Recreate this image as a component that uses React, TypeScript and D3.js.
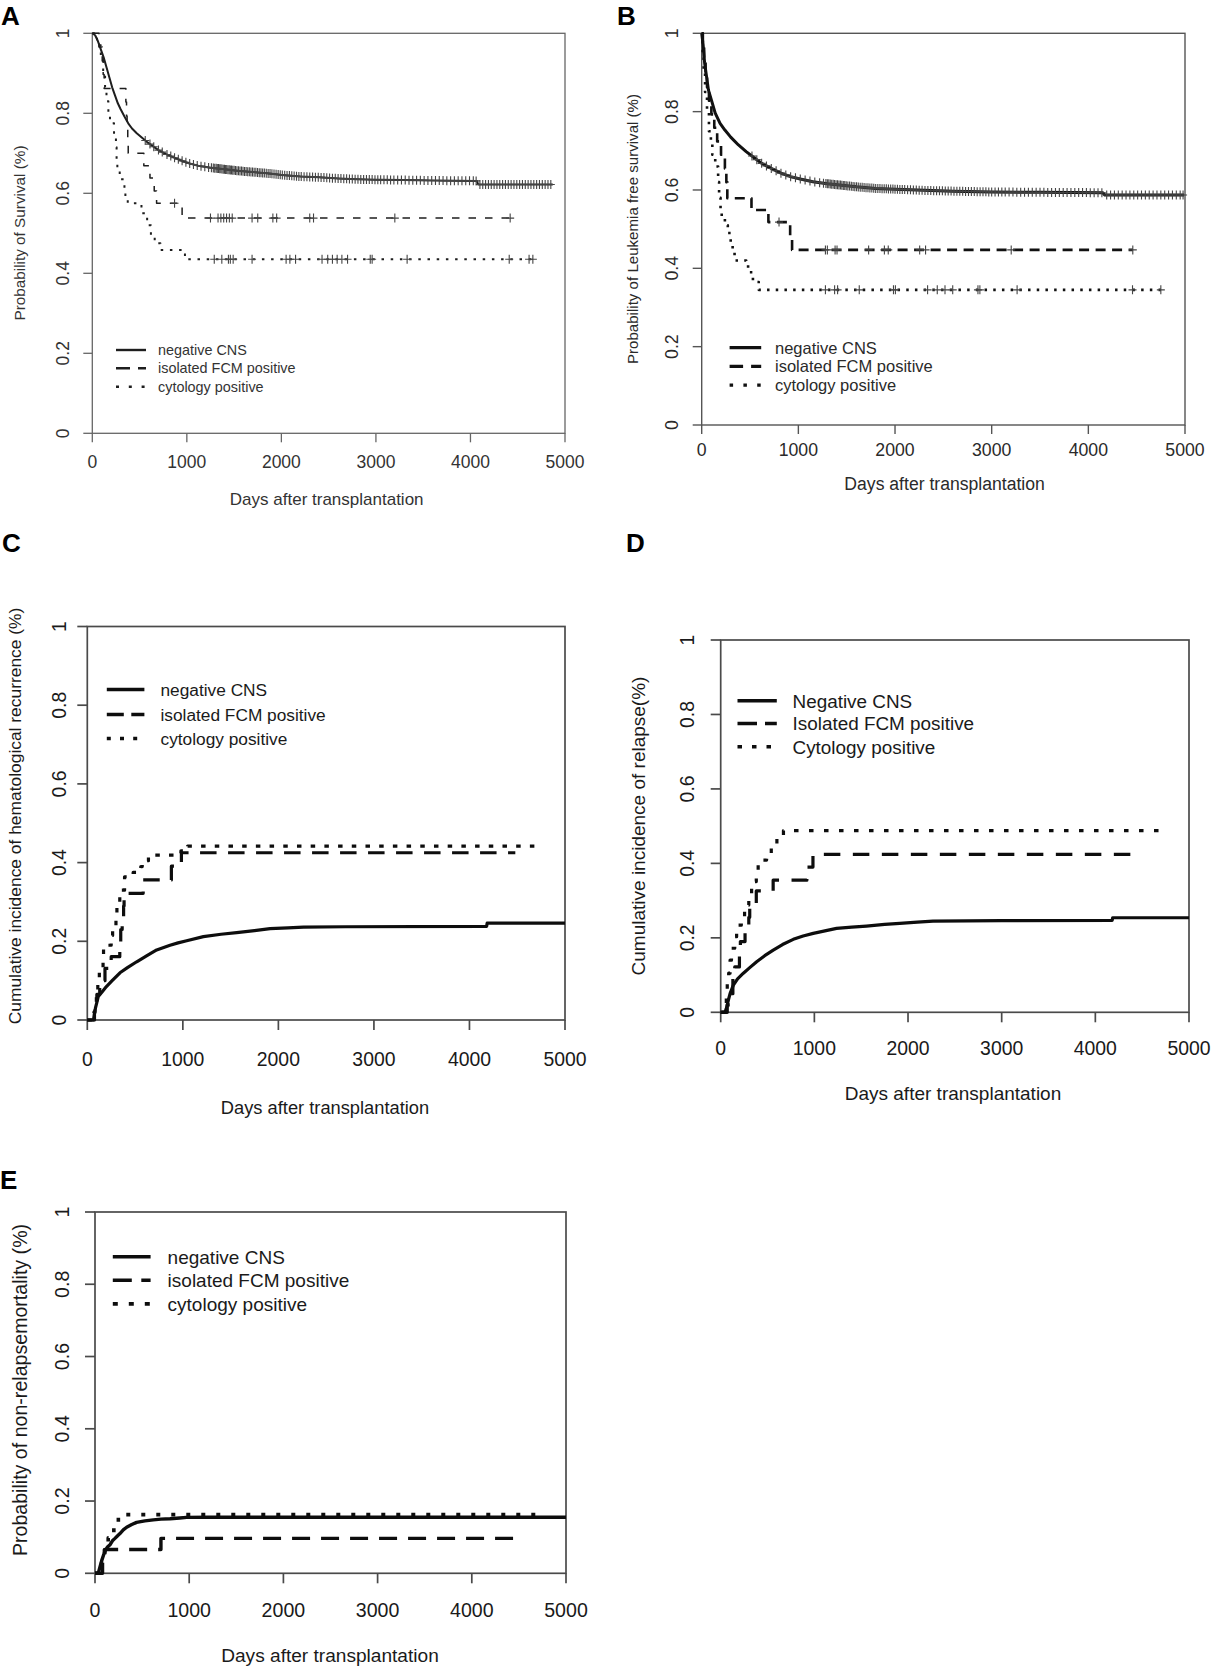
import React from "react";
import * as d3 from "d3";

// ---------- shared axis data ----------
const X_TICKS = [0, 1000, 2000, 3000, 4000, 5000];
const Y_TICKS = [0, 0.2, 0.4, 0.6, 0.8, 1];
const Y_TICK_LABELS = ["0", "0.2", "0.4", "0.6", "0.8", "1"];
const X_TITLE = "Days after transplantation";
const LEGEND_LOWER = ["negative CNS", "isolated FCM positive", "cytology positive"];
const LEGEND_UPPER = ["Negative CNS", "Isolated FCM positive", "Cytology positive"];

// ---------- Panel A: overall survival ----------
const A_NEG: [number, number][] = [
  [0, 1.0], [30, 0.995], [60, 0.98], [90, 0.96], [120, 0.94], [150, 0.915], [180, 0.89], [210, 0.865],
  [240, 0.845], [270, 0.825], [300, 0.81], [340, 0.792], [380, 0.775], [420, 0.762], [470, 0.75],
  [520, 0.74], [580, 0.728], [640, 0.718], [700, 0.708], [780, 0.698], [860, 0.69], [940, 0.682],
  [1020, 0.675], [1120, 0.669], [1250, 0.664], [1400, 0.66], [1550, 0.656], [1700, 0.653], [1850, 0.65],
  [2000, 0.646], [2200, 0.642], [2400, 0.64], [2600, 0.637], [2800, 0.635], [3000, 0.634], [3300, 0.633],
  [3600, 0.632], [4070, 0.631], [4080, 0.622],
];
const A_NEG_END = 4870;
const A_NEG_CENSOR = [
  560, 610, 650, 700, 740, 790, 830, 870, 910, 950, 990, 1030, 1070, 1110, 1150, 1190, 1230, 1260, 1280,
  1295, 1310, 1322, 1335, 1348, 1360, 1372, 1385, 1398, 1410, 1422, 1435, 1448, 1460, 1473, 1486, 1500,
  1515, 1530, 1546, 1562, 1578, 1594, 1610, 1627, 1644, 1661, 1678, 1695, 1712, 1730, 1748, 1766, 1784,
  1802, 1820, 1840, 1860, 1880, 1900, 1922, 1944, 1966, 1988, 2010, 2035, 2060, 2085, 2110, 2135, 2160,
  2185, 2210, 2240, 2270, 2300, 2330, 2360, 2390, 2420, 2450, 2480, 2510, 2540, 2570, 2600, 2630, 2660,
  2690, 2720, 2750, 2780, 2810, 2840, 2870, 2900, 2930, 2960, 2990, 3020, 3050, 3085, 3120, 3155, 3190,
  3230, 3270, 3310, 3350, 3390, 3430, 3470, 3510, 3550, 3590, 3630, 3670, 3710, 3750, 3790, 3830, 3870,
  3910, 3950, 3990, 4030, 4060, 4100, 4130, 4160, 4190, 4220, 4250, 4280, 4310, 4340, 4370, 4400, 4430,
  4460, 4490, 4520, 4550, 4580, 4610, 4640, 4670, 4700, 4730, 4760, 4790, 4820, 4850,
];
const A_FCM: [number, number][] = [
  [0, 1.0], [70, 0.966], [105, 0.931], [115, 0.897], [125, 0.862], [355, 0.828], [362, 0.793],
  [368, 0.759], [375, 0.724], [380, 0.7], [545, 0.669], [610, 0.638], [655, 0.606], [680, 0.575],
  [950, 0.538],
];
const A_FCM_END = 4420;
const A_FCM_CENSOR = [870, 1250, 1330, 1360, 1390, 1420, 1450, 1480, 1690, 1750, 1910, 1950, 2300, 2340, 3200, 4420];
const A_CYT: [number, number][] = [
  [0, 1.0], [50, 0.97], [90, 0.935], [115, 0.9], [135, 0.865], [150, 0.83], [170, 0.8], [187, 0.775],
  [230, 0.745], [250, 0.715], [257, 0.685], [265, 0.655], [290, 0.635], [340, 0.61], [350, 0.59],
  [375, 0.575], [520, 0.55], [580, 0.52], [620, 0.495], [660, 0.475], [720, 0.458], [980, 0.435],
];
const A_CYT_END = 4700;
const A_CYT_CENSOR = [1290, 1370, 1440, 1460, 1490, 1690, 2050, 2090, 2150, 2430, 2490, 2540, 2590, 2640, 2700, 2940, 2960, 3330, 4410, 4620, 4660];

// ---------- Panel B: leukemia free survival ----------
const B_NEG: [number, number][] = [
  [0, 1.0], [15, 0.97], [30, 0.925], [50, 0.89], [70, 0.855], [100, 0.83], [140, 0.796], [190, 0.77],
  [240, 0.753], [300, 0.735], [380, 0.715], [460, 0.698], [540, 0.683], [620, 0.668], [720, 0.655],
  [820, 0.643], [920, 0.634], [1020, 0.628], [1150, 0.621], [1300, 0.616], [1450, 0.612], [1600, 0.608],
  [1800, 0.604], [2000, 0.602], [2300, 0.599], [2600, 0.597], [3000, 0.595], [3500, 0.594], [4150, 0.593],
  [4170, 0.587],
];
const B_NEG_END = 4990;
const B_NEG_CENSOR = [
  520, 570, 620, 670, 720, 770, 820, 870, 920, 970, 1020, 1070, 1120, 1170, 1220, 1260, 1285, 1300, 1315,
  1330, 1345, 1360, 1375, 1390, 1405, 1420, 1435, 1450, 1465, 1480, 1495, 1512, 1530, 1548, 1566, 1584,
  1602, 1620, 1640, 1660, 1680, 1700, 1720, 1740, 1760, 1780, 1800, 1822, 1844, 1866, 1888, 1910, 1932,
  1955, 1978, 2000, 2025, 2050, 2075, 2100, 2130, 2160, 2190, 2220, 2250, 2280, 2310, 2340, 2370, 2400,
  2430, 2460, 2490, 2520, 2550, 2580, 2610, 2640, 2670, 2700, 2730, 2760, 2790, 2820, 2850, 2880, 2910,
  2940, 2970, 3000, 3035, 3070, 3105, 3140, 3180, 3220, 3260, 3300, 3340, 3380, 3420, 3460, 3500, 3540,
  3580, 3620, 3660, 3700, 3740, 3780, 3820, 3860, 3900, 3940, 3980, 4020, 4060, 4100, 4140, 4190, 4230,
  4270, 4310, 4350, 4390, 4430, 4470, 4510, 4550, 4590, 4630, 4670, 4710, 4750, 4790, 4830, 4870, 4910,
  4950, 4980,
];
const B_FCM: [number, number][] = [
  [0, 1.0], [12, 0.966], [25, 0.931], [40, 0.897], [55, 0.862], [75, 0.828], [100, 0.793], [130, 0.759],
  [160, 0.724], [200, 0.69], [240, 0.655], [255, 0.62], [265, 0.579], [515, 0.549], [690, 0.518],
  [915, 0.482], [935, 0.447],
];
const B_FCM_END = 4460;
const B_FCM_CENSOR = [800, 1280, 1300, 1380, 1400, 1727, 1890, 1930, 2255, 2316, 3202, 4460];
const B_CYT: [number, number][] = [
  [0, 1.0], [10, 0.95], [20, 0.9], [35, 0.85], [55, 0.8], [75, 0.75], [95, 0.72], [110, 0.69],
  [140, 0.66], [170, 0.62], [180, 0.58], [195, 0.55], [207, 0.53], [240, 0.51], [270, 0.49], [300, 0.465],
  [320, 0.445], [340, 0.42], [460, 0.413], [480, 0.39], [530, 0.365], [590, 0.345],
];
const B_CYT_END = 4750;
const B_CYT_CENSOR = [1280, 1375, 1406, 1630, 1984, 2004, 2337, 2437, 2517, 2597, 2858, 2878, 3263, 4457, 4750];

// ---------- Panel C: hematological recurrence ----------
const C_NEG: [number, number][] = [
  [0, 0], [65, 0], [75, 0.015], [85, 0.03], [100, 0.045], [115, 0.06], [150, 0.07], [200, 0.085],
  [260, 0.1], [342, 0.12], [420, 0.133], [517, 0.148], [620, 0.163], [726, 0.178], [866, 0.19],
  [950, 0.196], [1040, 0.2015], [1215, 0.212], [1400, 0.218], [1564, 0.222], [1750, 0.227], [1913, 0.232],
  [2100, 0.234], [2262, 0.236], [2700, 0.237], [4180, 0.238], [4185, 0.246],
];
const C_NEG_END = 5000;
const C_FCM: [number, number][] = [
  [0, 0], [75, 0.03], [100, 0.065], [130, 0.1], [185, 0.131], [250, 0.161], [340, 0.195], [350, 0.23],
  [365, 0.26], [380, 0.29], [385, 0.322], [585, 0.356], [880, 0.391], [985, 0.425],
];
const C_FCM_END = 4480;
const C_CYT: [number, number][] = [
  [0, 0], [70, 0.02], [80, 0.042], [95, 0.07], [110, 0.1], [126, 0.131], [165, 0.16], [170, 0.186],
  [220, 0.19], [250, 0.215], [265, 0.24], [300, 0.27], [310, 0.3], [340, 0.33], [390, 0.364],
  [480, 0.375], [560, 0.39], [575, 0.405], [640, 0.419], [980, 0.43], [1050, 0.442],
];
const C_CYT_END = 4760;

// ---------- Panel D: relapse ----------
const D_NEG: [number, number][] = [
  [0, 0], [45, 0], [60, 0.01], [82, 0.033], [100, 0.05], [135, 0.073], [180, 0.09], [242, 0.105],
  [310, 0.12], [384, 0.136], [470, 0.152], [561, 0.167], [660, 0.182], [775, 0.196], [880, 0.205],
  [988, 0.212], [1100, 0.218], [1237, 0.2255], [1400, 0.229], [1556, 0.2317], [1750, 0.236], [1912, 0.239],
  [2100, 0.242], [2267, 0.245], [3000, 0.246], [4180, 0.247], [4185, 0.254],
];
const D_NEG_END = 5000;
const D_FCM: [number, number][] = [
  [0, 0], [70, 0.02], [100, 0.05], [130, 0.09], [150, 0.122], [200, 0.16], [210, 0.19], [260, 0.22],
  [300, 0.255], [310, 0.29], [380, 0.326], [560, 0.355], [920, 0.39], [985, 0.424],
];
const D_FCM_END = 4380;
const D_CYT: [number, number][] = [
  [0, 0], [30, 0.015], [60, 0.05], [70, 0.08], [85, 0.105], [100, 0.14], [115, 0.172], [150, 0.203],
  [170, 0.234], [220, 0.257], [255, 0.288], [300, 0.315], [330, 0.351], [380, 0.373], [400, 0.409],
  [490, 0.4225], [540, 0.444], [600, 0.466], [670, 0.488],
];
const D_CYT_END = 4760;

// ---------- Panel E: non-relapse mortality ----------
const E_NEG: [number, number][] = [
  [0, 0], [35, 0], [50, 0.015], [71, 0.035], [90, 0.05], [106, 0.0615], [130, 0.072], [159, 0.079],
  [185, 0.09], [212, 0.0967], [240, 0.104], [265, 0.11], [300, 0.12], [336, 0.1275], [390, 0.135],
  [442, 0.141], [530, 0.145], [619, 0.148], [700, 0.15], [796, 0.151], [900, 0.153], [973, 0.1547],
  [1200, 0.155],
];
const E_NEG_END = 5000;
const E_FCM: [number, number][] = [[0, 0], [80, 0.033], [105, 0.066], [700, 0.0967]];
const E_FCM_END = 4460;
const E_CYT: [number, number][] = [[0, 0], [70, 0.03], [100, 0.065], [140, 0.098], [200, 0.13], [248, 0.1625]];
const E_CYT_END = 4680;

type Series = { pts: [number, number][]; end: number; censor?: number[]; smooth?: boolean };

const PANELS = [
  {
    letter: "A", letterPos: [1, 25],
    box: { l: 92.3, r: 565, t: 33.3, b: 433.3 },
    series: [
      { pts: A_NEG, end: A_NEG_END, censor: A_NEG_CENSOR, smooth: true },
      { pts: A_FCM, end: A_FCM_END, censor: A_FCM_CENSOR },
      { pts: A_CYT, end: A_CYT_END, censor: A_CYT_CENSOR },
    ] as Series[],
    yTitle: "Probability of Survival (%)",
    legend: LEGEND_LOWER,
    lw: [2.0, 1.5, 2.0], dash: ["", "7.5 9", "2.5 6.7"], lineColor: "#1e1e1e",
    legLw: [2.4, 2.4, 2.6], legDash: ["", "14 8", "3 9.8"],
    textColor: "#333", axisColor: "#666", axisW: 1.3, tickLen: 9,
    tickFont: 17.5, xTitleFont: 17, yTitleFont: 15.3, legendFont: 14.4,
    yTickX: 68.5, xTickY: 468, xTitleX: 326.7, xTitleY: 505, yTitleX: 25, yTitleY: 233,
    leg: { x1: 116, x2: 146, tx: 158, ys: [350, 368.3, 386.7] },
    markColor: "#444",
  },
  {
    letter: "B", letterPos: [617, 25],
    box: { l: 701.7, r: 1185, t: 33.3, b: 425 },
    series: [
      { pts: B_NEG, end: B_NEG_END, censor: B_NEG_CENSOR, smooth: true },
      { pts: B_FCM, end: B_FCM_END, censor: B_FCM_CENSOR },
      { pts: B_CYT, end: B_CYT_END, censor: B_CYT_CENSOR },
    ] as Series[],
    yTitle: "Probability of Leukemia free survival (%)",
    legend: LEGEND_LOWER,
    lw: [3.0, 2.6, 2.6], dash: ["", "10 6.5", "2.5 6.2"], lineColor: "#111",
    legLw: [3.2, 3.2, 3.2], legDash: ["", "13.5 8", "3.5 10.3"],
    textColor: "#2a2a2a", axisColor: "#555", axisW: 1.4, tickLen: 9,
    tickFont: 17.7, xTitleFont: 17.6, yTitleFont: 15.1, legendFont: 16.5,
    yTickX: 678, xTickY: 455.6, xTitleX: 944.6, xTitleY: 490, yTitleX: 638, yTitleY: 229,
    leg: { x1: 729.6, x2: 761.2, tx: 775, ys: [347.7, 366.4, 385.1] },
    markColor: "#444",
  },
  {
    letter: "C", letterPos: [2, 551.5],
    box: { l: 87.3, r: 565, t: 626.5, b: 1020 },
    series: [
      { pts: C_NEG, end: C_NEG_END, smooth: true },
      { pts: C_FCM, end: C_FCM_END },
      { pts: C_CYT, end: C_CYT_END },
    ] as Series[],
    yTitle: "Cumulative incidence of hematological recurrence (%)",
    legend: LEGEND_LOWER,
    lw: [3.2, 3.2, 3.2], dash: ["", "16.5 11.5", "4.5 9.2"], lineColor: "#0d0d0d",
    legLw: [3.5, 3.5, 3.5], legDash: ["", "17 7.5", "4 9.2"],
    textColor: "#1a1a1a", axisColor: "#4a4a4a", axisW: 1.7, tickLen: 10,
    tickFont: 19.4, xTitleFont: 18.3, yTitleFont: 17.4, legendFont: 17.3,
    yTickX: 66, xTickY: 1066, xTitleX: 325, xTitleY: 1114, yTitleX: 21, yTitleY: 816,
    leg: { x1: 106.8, x2: 144.4, tx: 160.5, ys: [689.5, 714.6, 738.5] },
    markColor: "#333",
  },
  {
    letter: "D", letterPos: [626, 551.5],
    box: { l: 720.7, r: 1189, t: 640, b: 1012.3 },
    series: [
      { pts: D_NEG, end: D_NEG_END, smooth: true },
      { pts: D_FCM, end: D_FCM_END },
      { pts: D_CYT, end: D_CYT_END },
    ] as Series[],
    yTitle: "Cumulative incidence of relapse(%)",
    legend: LEGEND_UPPER,
    lw: [3.2, 3.2, 3.2], dash: ["", "16.5 12.5", "4.5 10.5"], lineColor: "#0d0d0d",
    legLw: [3.5, 3.5, 3.5], legDash: ["", "19.5 8", "4.5 10"],
    textColor: "#1a1a1a", axisColor: "#4a4a4a", axisW: 1.7, tickLen: 10,
    tickFont: 19.4, xTitleFont: 19, yTitleFont: 19, legendFont: 18.9,
    yTickX: 694, xTickY: 1055, xTitleX: 953, xTitleY: 1100, yTitleX: 645, yTitleY: 826,
    leg: { x1: 737.5, x2: 776.8, tx: 792.5, ys: [700.7, 723.6, 746.8] },
    markColor: "#333",
  },
  {
    letter: "E", letterPos: [0, 1189],
    box: { l: 95, r: 566, t: 1212, b: 1573.3 },
    series: [
      { pts: E_NEG, end: E_NEG_END, smooth: true },
      { pts: E_FCM, end: E_FCM_END },
      { pts: E_CYT, end: E_CYT_END },
    ] as Series[],
    yTitle: "Probability of non-relapsemortality (%)",
    legend: LEGEND_LOWER,
    lw: [3.4, 3.4, 3.6], dash: ["", "18 11", "4 11"], lineColor: "#0d0d0d",
    legLw: [3.6, 3.6, 3.6], legDash: ["", "19 9.5", "5 11"],
    textColor: "#1a1a1a", axisColor: "#4a4a4a", axisW: 1.7, tickLen: 10,
    tickFont: 19.6, xTitleFont: 19.1, yTitleFont: 19.6, legendFont: 19,
    yTickX: 69.3, xTickY: 1617, xTitleX: 330, xTitleY: 1662, yTitleX: 27, yTitleY: 1390,
    leg: { x1: 112.8, x2: 150.6, tx: 167.6, ys: [1256.7, 1280.3, 1303.9] },
    markColor: "#333",
  },
];

const FONT = "'Liberation Sans', Arial, Helvetica, sans-serif";

function valueAt(pts: [number, number][], t: number, smooth?: boolean) {
  if (!smooth) {
    let v = pts[0][1];
    for (const p of pts) {
      if (p[0] <= t) v = p[1];
      else break;
    }
    return v;
  }
  for (let i = 0; i < pts.length - 1; i++) {
    const a = pts[i];
    const b = pts[i + 1];
    if (t >= a[0] && t <= b[0]) return a[1] + ((b[1] - a[1]) * (t - a[0])) / (b[0] - a[0]);
  }
  return pts[pts.length - 1][1];
}

function Panel({ p }: { p: (typeof PANELS)[number] }) {
  const x = d3.scaleLinear().domain([0, 5000]).range([p.box.l, p.box.r]);
  const y = d3.scaleLinear().domain([0, 1]).range([p.box.b, p.box.t]);
  const stepLine = d3
    .line<[number, number]>()
    .x((d) => x(d[0]))
    .y((d) => y(d[1]))
    .curve(d3.curveStepAfter);
  const smoothLine = d3
    .line<[number, number]>()
    .x((d) => x(d[0]))
    .y((d) => y(d[1]))
    .curve(d3.curveLinear);

  return (
    <g fontFamily={FONT}>
      <text x={p.letterPos[0]} y={p.letterPos[1]} fontSize={26} fontWeight="bold" fill="#000">
        {p.letter}
      </text>
      <rect
        x={p.box.l}
        y={p.box.t}
        width={p.box.r - p.box.l}
        height={p.box.b - p.box.t}
        fill="none"
        stroke={p.axisColor}
        strokeWidth={p.axisW}
      />
      {X_TICKS.map((t) => (
        <g key={"xt" + t}>
          <line x1={x(t)} x2={x(t)} y1={p.box.b} y2={p.box.b + p.tickLen} stroke={p.axisColor} strokeWidth={p.axisW} />
          <text x={x(t)} y={p.xTickY} fontSize={p.tickFont} textAnchor="middle" fill={p.textColor}>
            {t}
          </text>
        </g>
      ))}
      {Y_TICKS.map((t, i) => (
        <g key={"yt" + t}>
          <line x1={p.box.l - p.tickLen} x2={p.box.l} y1={y(t)} y2={y(t)} stroke={p.axisColor} strokeWidth={p.axisW} />
          <text
            transform={`translate(${p.yTickX},${y(t)}) rotate(-90)`}
            fontSize={p.tickFont}
            textAnchor="middle"
            fill={p.textColor}
          >
            {Y_TICK_LABELS[i]}
          </text>
        </g>
      ))}
      <text x={p.xTitleX} y={p.xTitleY} fontSize={p.xTitleFont} textAnchor="middle" fill={p.textColor}>
        {X_TITLE}
      </text>
      <text
        transform={`translate(${p.yTitleX},${p.yTitleY}) rotate(-90)`}
        fontSize={p.yTitleFont}
        textAnchor="middle"
        fill={p.textColor}
      >
        {p.yTitle}
      </text>
      {p.series.map((s, i) => {
        const pts: [number, number][] = [...s.pts, [s.end, s.pts[s.pts.length - 1][1]]];
        const gen = s.smooth ? smoothLine : stepLine;
        return (
          <g key={"s" + i}>
            <path
              d={gen(pts) || ""}
              fill="none"
              stroke={p.lineColor}
              strokeWidth={p.lw[i]}
              strokeDasharray={p.dash[i] || undefined}
              strokeLinejoin="round"
            />
            {(s.censor || []).map((c, j) => {
              const cx = x(c);
              const cy = y(valueAt(s.pts, c, s.smooth));
              return (
                <path
                  key={j}
                  d={`M${cx - 4},${cy}h8M${cx},${cy - 4.5}v9`}
                  stroke={p.markColor}
                  strokeWidth={1.1}
                  fill="none"
                />
              );
            })}
          </g>
        );
      })}
      {p.legend.map((lab, i) => (
        <g key={"lg" + i}>
          <line
            x1={p.leg.x1}
            x2={p.leg.x2}
            y1={p.leg.ys[i]}
            y2={p.leg.ys[i]}
            stroke={p.lineColor}
            strokeWidth={p.legLw[i]}
            strokeDasharray={p.legDash[i] || undefined}
          />
          <text x={p.leg.tx} y={p.leg.ys[i] + p.legendFont * 0.36} fontSize={p.legendFont} fill={p.textColor}>
            {lab}
          </text>
        </g>
      ))}
    </g>
  );
}

export default function App() {
  return (
    <svg
      width={1216}
      height={1670}
      viewBox="0 0 1216 1670"
      style={{ position: "absolute", left: 0, top: 0, display: "block", background: "#fff" }}
    >
      <rect width={1216} height={1670} fill="#fff" />
      {PANELS.map((p) => (
        <Panel key={p.letter} p={p} />
      ))}
    </svg>
  );
}
